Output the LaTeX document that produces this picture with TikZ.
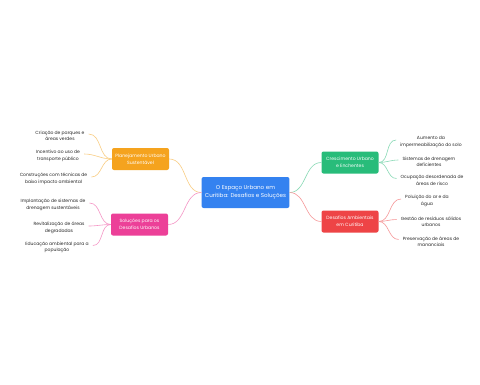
\documentclass[tikz,border=0pt]{standalone}
\usepackage{fontspec}
\setmainfont{Poppins}
\usetikzlibrary{positioning}
\definecolor{hubblue}{RGB}{52, 130, 240}
\definecolor{planorange}{RGB}{245, 163, 30}
\definecolor{solpink}{RGB}{236, 64, 152}
\definecolor{floodgreen}{RGB}{40, 188, 122}
\definecolor{envred}{RGB}{238, 68, 70}

\tikzset{
  hub/.style={draw=none, fill=hubblue, rounded corners=2pt, text=white, minimum width=85pt, minimum height=31pt, align=center, font=\fontsize{5.6}{8}\selectfont},
  branch/.style={draw=none, rounded corners=2pt, text=white, minimum width=57pt, minimum height=22pt, align=center, font=\fontsize{4.6}{6.6}\selectfont},
  leaf/.style={align=center, inner sep=1pt, text=black!85, font=\fontsize{4.5}{6.4}\selectfont},
  link/.style={line width=0.6pt}
}

\begin{document}
\begin{tikzpicture}[x=1pt, y=-1pt]
  \useasboundingbox[fill=white] (0,0) rectangle (480,384);

  % centro
  \node[hub] (hub) at (245.5,192.5) {O Espaço Urbano em\\Curitiba: Desafios e Soluções};

  % ramos
  \node[branch, fill=planorange] (plan) at (140.5,159) {Planejamento Urbano\\Sustentável};
  \node[branch, fill=solpink] (sol) at (139.5,224.5) {Soluções para os\\Desafios Urbanos};
  \node[branch, fill=floodgreen] (flood) at (350,162.5) {Crescimento Urbano\\e Enchentes};
  \node[branch, fill=envred] (env) at (350,221.5) {Desafios Ambientais\\em Curitiba};

  \draw[link, planorange!55] (hub.west) to[out=180, in=0] (plan.east);
  \draw[link, solpink!55] (hub.west) to[out=180, in=0] (sol.east);
  \draw[link, floodgreen!55] (hub.east) to[out=0, in=180] (flood.west);
  \draw[link, envred!55] (hub.east) to[out=0, in=180] (env.west);

  % folhas: planejamento
  \node[leaf] (p1) at (60,136) {Criação de parques e\\áreas verdes};
  \node[leaf] (p2) at (58,156) {Incentivo ao uso de\\transporte público};
  \node[leaf] (p3) at (53.5,179) {Construções com técnicas de\\baixo impacto ambiental};

  % folhas: soluções
  \node[leaf] (s1) at (53,205) {Implantação de sistemas de\\drenagem sustentáveis};
  \node[leaf] (s2) at (59,228) {Revitalização de áreas\\degradadas};
  \node[leaf] (s3) at (57,247.5) {Educação ambiental para a\\população};

  % folhas: enchentes
  \node[leaf] (f1) at (431,142) {Aumento da\\impermeabilização do solo};
  \node[leaf] (f2) at (429,162) {Sistemas de drenagem\\deficientes};
  \node[leaf] (f3) at (432,180.5) {Ocupação desordenada de\\áreas de risco};

  % folhas: ambientais
  \node[leaf] (e1) at (427,201) {Poluição do ar e da\\água};
  \node[leaf] (e2) at (431,221.5) {Gestão de resíduos sólidos\\urbanos};
  \node[leaf] (e3) at (431,241.5) {Preservação de áreas de\\mananciais};

  \foreach \l in {p1,p2,p3}
    \draw[link, planorange!55] (plan.west) to[out=180, in=0] ([xshift=3pt, yshift=2pt]\l.east);
  \foreach \l in {s1,s2,s3}
    \draw[link, solpink!55] (sol.west) to[out=180, in=0] ([xshift=3pt, yshift=2pt]\l.east);
  \foreach \l in {f1,f2,f3}
    \draw[link, floodgreen!55] (flood.east) to[out=0, in=180] ([xshift=-3pt, yshift=2pt]\l.west);
  \foreach \l in {e1,e2,e3}
    \draw[link, envred!55] (env.east) to[out=0, in=180] ([xshift=-3pt, yshift=2pt]\l.west);
\end{tikzpicture}
\end{document}
